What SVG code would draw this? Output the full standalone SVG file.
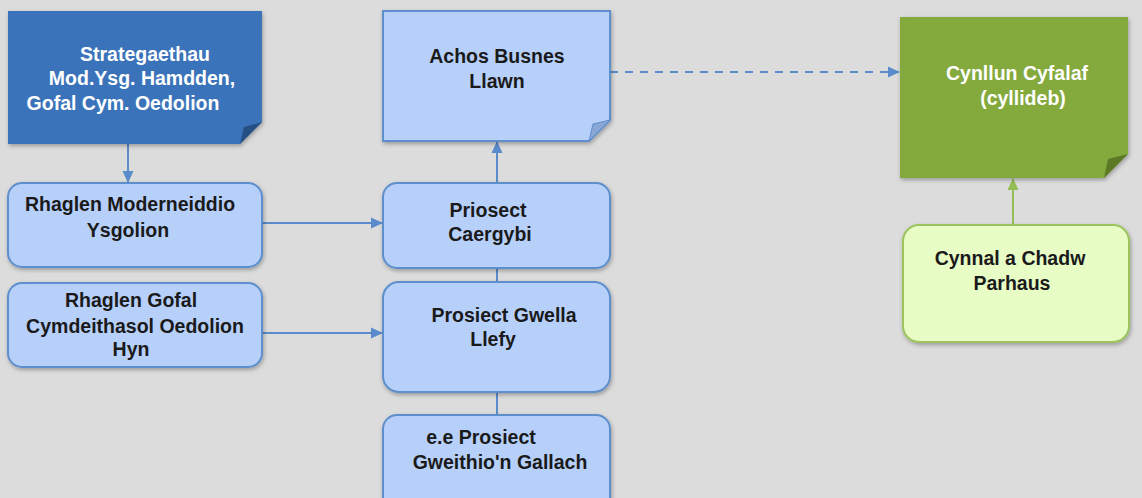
<svg xmlns="http://www.w3.org/2000/svg" width="1142" height="498" viewBox="0 0 1142 498">
<defs>
<style>
text{font-family:"Liberation Sans",Arial,sans-serif;font-size:19.5px;font-weight:bold;text-anchor:middle}
.w{fill:#ffffff}
.k{fill:#1a1a1a}
.lb{fill:#b7d0fa;stroke:#5d8fcc;stroke-width:2}
.lg{fill:#e8fcc6;stroke:#9dc45c;stroke-width:2}
.c{stroke:#5a8ccc;stroke-width:2;fill:none}
.cg{stroke:#95bd55;stroke-width:2;fill:none}
</style>
<filter id="sh" x="-10%" y="-10%" width="125%" height="130%">
<feDropShadow dx="1" dy="2" stdDeviation="2" flood-color="#000" flood-opacity="0.3"/>
</filter>
<marker id="ab" markerWidth="12" markerHeight="12" refX="11" refY="6" orient="auto" markerUnits="userSpaceOnUse" viewBox="0 0 12 12">
<path d="M0,0.5 L12,6 L0,11.5 Z" fill="#5a8ccc"/>
</marker>
<marker id="ag" markerWidth="12" markerHeight="12" refX="11" refY="6" orient="auto" markerUnits="userSpaceOnUse" viewBox="0 0 12 12">
<path d="M0,0.5 L12,6 L0,11.5 Z" fill="#95bd55"/>
</marker>
</defs>
<rect width="1142" height="498" fill="#dcdcdc"/>

<g id="connectors">
<line class="c" x1="128" y1="144" x2="128" y2="182" marker-end="url(#ab)"/>
<line class="c" x1="262" y1="223" x2="382" y2="223" marker-end="url(#ab)"/>
<line class="c" x1="262" y1="333" x2="382" y2="333" marker-end="url(#ab)"/>
<line class="c" x1="497" y1="183" x2="497" y2="142" marker-end="url(#ab)"/>
<line class="c" x1="497" y1="268" x2="497" y2="282"/>
<line class="c" x1="497" y1="392" x2="497" y2="415"/>
<line class="c" x1="610" y1="72" x2="899" y2="72" stroke-dasharray="8,7" marker-end="url(#ab)"/>
<line class="cg" x1="1013" y1="225" x2="1013" y2="179" marker-end="url(#ag)"/>
</g>

<g id="n-strategaethau">
<path d="M8,11 H262 V122 L240,144 H8 Z" fill="#3a73ba" filter="url(#sh)"/>
<path d="M262,122 L240,144 L244,127 Z" fill="#264f85"/>
<text class="w" x="145" y="61">Strategaethau</text>
<text class="w" x="142" y="85">Mod.Ysg. Hamdden,</text>
<text class="w" x="123" y="110">Gofal Cym. Oedolion</text>
</g>

<g id="n-achos">
<path class="lb" d="M383,11 H610 V120 L589,141 H383 Z" filter="url(#sh)"/>
<path d="M610,120 L589,141 L593,124 Z" fill="#8aa6d4" stroke="#5d8fcc" stroke-width="1"/>
<text class="k" x="497" y="63">Achos Busnes</text>
<text class="k" x="497" y="88">Llawn</text>
</g>

<g id="n-cynllun">
<path d="M900,17 H1128 V154 L1104,178 H900 Z" fill="#84a93d" filter="url(#sh)"/>
<path d="M1128,154 L1104,178 L1108,159 Z" fill="#5c7a26"/>
<text class="w" x="1017" y="80">Cynllun Cyfalaf</text>
<text class="w" x="1023" y="105">(cyllideb)</text>
</g>

<g id="n-moderneiddio">
<rect class="lb" x="8" y="183" width="254" height="84" rx="14" filter="url(#sh)"/>
<text class="k" x="130" y="211">Rhaglen Moderneiddio</text>
<text class="k" x="128" y="237">Ysgolion</text>
</g>

<g id="n-gofal">
<rect class="lb" x="8" y="283" width="254" height="84" rx="14" filter="url(#sh)"/>
<text class="k" x="131" y="307">Rhaglen Gofal</text>
<text class="k" x="135" y="333">Cymdeithasol Oedolion</text>
<text class="k" x="131" y="356">Hyn</text>
</g>

<g id="n-caergybi">
<rect class="lb" x="383" y="183" width="227" height="85" rx="14" filter="url(#sh)"/>
<text class="k" x="488" y="217">Priosect</text>
<text class="k" x="490" y="241">Caergybi</text>
</g>

<g id="n-llefy">
<rect class="lb" x="383" y="282" width="227" height="110" rx="16" filter="url(#sh)"/>
<text class="k" x="504" y="322">Prosiect Gwella</text>
<text class="k" x="493" y="346">Llefy</text>
</g>

<g id="n-gallach">
<rect class="lb" x="383" y="415" width="227" height="100" rx="14" filter="url(#sh)"/>
<text class="k" x="481" y="444">e.e Prosiect</text>
<text class="k" x="500" y="469">Gweithio'n Gallach</text>
</g>

<g id="n-cynnal">
<rect class="lg" x="903" y="225" width="226" height="117" rx="16" filter="url(#sh)"/>
<text class="k" x="1010" y="265">Cynnal a Chadw</text>
<text class="k" x="1012" y="290">Parhaus</text>
</g>
</svg>
